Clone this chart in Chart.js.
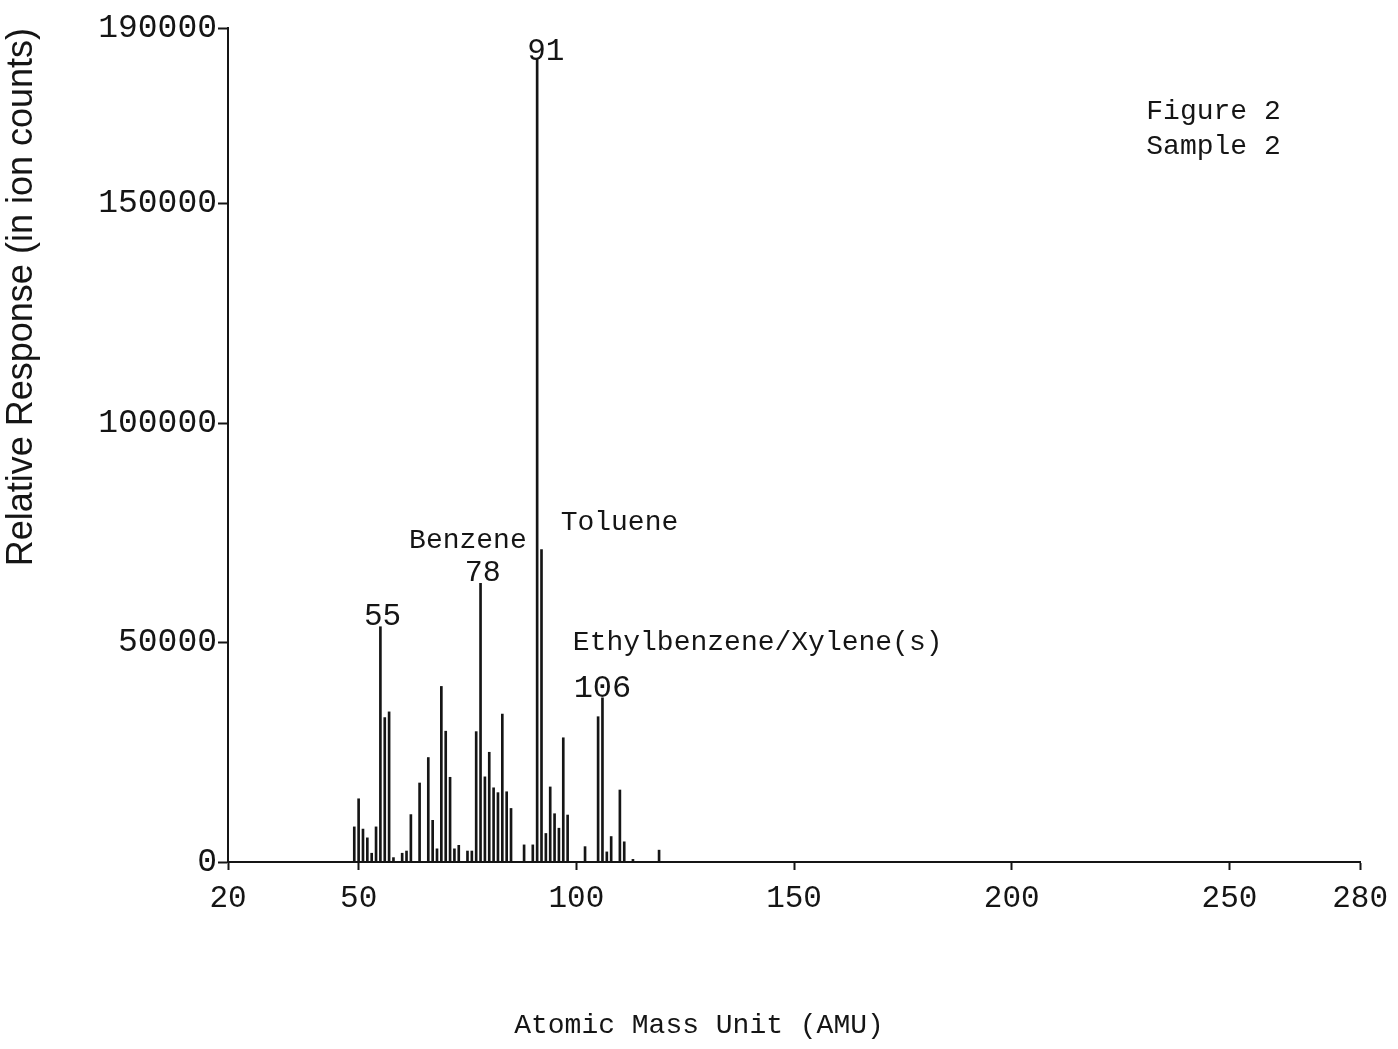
<!DOCTYPE html>
<html>
<head>
<meta charset="utf-8">
<title>Figure 2 - Sample 2</title>
<script src="https://cdn.jsdelivr.net/npm/chart.js@4.4.1/dist/chart.umd.min.js"></script>
<style>
  html, body { margin: 0; padding: 0; background: #fff; }
  canvas { display: block; }
</style>
</head>
<body>
<canvas id="graph" width="1398" height="1049"></canvas>
<script>
// mass spectrum peaks
const amu = [49, 50, 51, 52, 53, 54, 55, 56, 57, 58,
    60, 61, 62, 64, 66, 67, 68, 69, 70, 71, 72, 73, 75, 76,
    77, 78, 79, 80, 81, 82, 83, 84, 85, 88, 90,
    91, 92, 93, 94, 95, 96, 97, 98,
    102, 105, 106, 107, 108, 110, 111, 113, 119]
const counts = [8000, 14400, 7500, 5500, 2000, 8000, 53600, 32900, 34200, 1000,
    2000, 2500, 10800, 18000, 23800, 9500, 3000, 40000, 29800, 19300, 3000, 3800, 2500, 2500,
    29700, 63500, 19400, 25000, 16900, 15800, 33700, 16000, 12200, 3900, 3900,
    183000, 71200, 6500, 17100, 11000, 7700, 28300, 10700,
    3500, 33100, 37400, 2300, 5800, 16400, 4600, 600, 2700]

const xTicks = [20, 50, 100, 150, 200, 250, 280]
const yTicks = [0, 50000, 100000, 150000, 190000]

// text written on the plot, placed in data units (amu, ion counts at baseline)
const noteText = ['55', 'Benzene', '78', '91', 'Toluene', 'Ethylbenzene/Xylene(s)', '106', 'Figure 2', 'Sample 2']
const noteAmu = [55.5, 75.1, 78.5, 93, 96.4, 99.2, 106, 230.9, 230.9]
const noteCount = [54000, 71500, 64000, 182700, 75600, 48300, 37600, 169300, 161300]
const noteAlign = ['center', 'center', 'center', 'center', 'left', 'left', 'center', 'left', 'left']
const noteSize = [31, 28, 30, 31, 28, 28, 32, 28, 28]

const xTitle = 'Atomic Mass Unit (AMU)'

const ink = '#151515'
const mono = "'Liberation Mono', 'DejaVu Sans Mono', monospace"

const notes = {
    id: 'notes',
    afterDatasetsDraw(chart) {
        const { ctx, scales: { x, y } } = chart
        ctx.save()
        ctx.fillStyle = ink
        ctx.textBaseline = 'alphabetic'
        noteText.forEach((t, i) => {
            ctx.font = noteSize[i] + 'px ' + mono
            ctx.textAlign = noteAlign[i]
            ctx.fillText(t, x.getPixelForValue(noteAmu[i]), y.getPixelForValue(noteCount[i]))
        })
        // x axis title sits centred on the page, not on the axis
        ctx.font = '28px ' + mono
        ctx.textAlign = 'center'
        ctx.fillText(xTitle, chart.width / 2, 1033)
        ctx.restore()
    }
}

const ctx = document.getElementById('graph').getContext('2d')

const data = {
    datasets: [{
        label: 'Sample 2',
        data: amu.map((a, i) => ({ x: a, y: counts[i] })),
        backgroundColor: ink,
        borderWidth: 0,
        barThickness: 2
    }]
}

const config = {
    type: 'bar',
    data: data,
    options: {
        responsive: false,
        animation: false,
        layout: { padding: { top: 28, right: 37, left: 0, bottom: 0 } },
        plugins: {
            legend: { display: false },
            tooltip: { enabled: false },
            title: { display: false }
        },
        scales: {
            x: {
                type: 'linear',
                min: 20,
                max: 280,
                offset: false,
                afterBuildTicks: scale => { scale.ticks = xTicks.map(v => ({ value: v })) },
                afterFit: scale => { scale.height = 1049 - 862 },
                ticks: {
                    autoSkip: false,
                    maxRotation: 0,
                    padding: 10,
                    color: ink,
                    font: { family: mono, size: 31 },
                    callback: v => String(v)
                },
                grid: {
                    offset: false,
                    drawOnChartArea: false,
                    drawTicks: true,
                    tickLength: 8,
                    tickColor: ink,
                    tickWidth: 2
                },
                border: { display: true, color: ink, width: 2 }
            },
            y: {
                min: 0,
                max: 190000,
                afterBuildTicks: scale => { scale.ticks = yTicks.map(v => ({ value: v })) },
                afterFit: scale => { scale.width = 228 },
                ticks: {
                    padding: 1,
                    color: ink,
                    font: { family: mono, size: 33 },
                    callback: v => String(v)
                },
                grid: {
                    drawOnChartArea: false,
                    drawTicks: true,
                    tickLength: 10,
                    tickColor: ink,
                    tickWidth: 2
                },
                border: { display: true, color: ink, width: 2 },
                title: {
                    display: true,
                    text: 'Relative Response (in ion counts)',
                    align: 'end',
                    color: ink,
                    font: { family: "'Liberation Sans', Arial, sans-serif", size: 36 },
                    padding: { top: 0, bottom: 0 }
                }
            }
        }
    },
    plugins: [notes]
}

const graph = new Chart(ctx, config)
</script>
</body>
</html>
